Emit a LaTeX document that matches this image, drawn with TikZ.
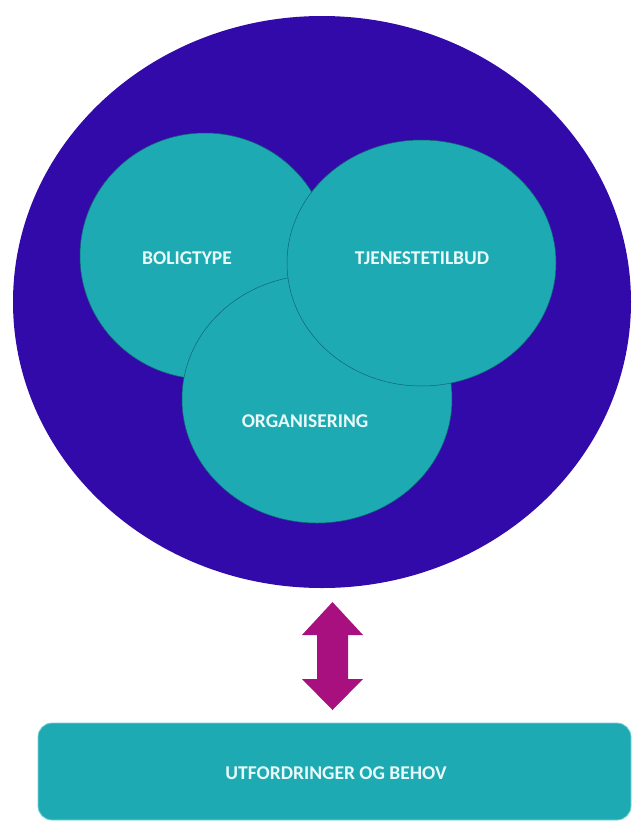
\documentclass[tikz,border=0pt]{standalone}
\usepackage{fontspec}
\setmainfont{Carlito}
\usetikzlibrary{shapes.geometric}
\definecolor{bigblue}{RGB}{51,10,170}
\definecolor{tealfill}{RGB}{30,170,178}
\definecolor{tealline}{RGB}{18,100,118}
\definecolor{boxline}{RGB}{120,210,215}
\definecolor{arrowmag}{RGB}{168,16,128}
\definecolor{txt}{RGB}{232,250,250}
\begin{document}
\begin{tikzpicture}[x=1pt,y=-1pt,
  outer/.style={ellipse, fill=bigblue, draw=none, inner sep=0pt},
  venn/.style={ellipse, fill=tealfill, draw=tealline, line width=0.5pt, inner sep=0pt},
  lbl/.style={text=txt, font=\bfseries\fontsize{19.5}{23}\selectfont, inner sep=0pt},
  bottombox/.style={rectangle, rounded corners=14pt, fill=tealfill, draw=boxline, line width=0.8pt, inner sep=0pt},
  dblarrow/.style={fill=arrowmag, draw=none}]
\useasboundingbox (0,0) rectangle (632,823);
\fill[white] (0,0) rectangle (632,823);
% outer ellipse
\node[outer, minimum width=618pt, minimum height=572pt] (big) at (322,302) {};
% venn circles
\node[venn, minimum width=250pt, minimum height=246pt] (bolig) at (205,256) {};
\node[venn, minimum width=270pt, minimum height=248pt] (org) at (317,399) {};
\node[venn, minimum width=269pt, minimum height=246pt] (tjen) at (421.5,263) {};
% labels
\node[lbl] (tbolig) at (187,258) {BOLIGTYPE};
\node[lbl] (ttjen) at (422,258) {TJENESTETILBUD};
\node[lbl] (torg) at (305,421) {ORGANISERING};
% bottom box
\node[bottombox, minimum width=593pt, minimum height=97pt] (box) at (334.5,771.5) {};
\node[lbl] (tbox) at (336,773) {UTFORDRINGER OG BEHOV};
% double arrow between ellipse and box
\coordinate (atop) at (332.5,602);
\coordinate (abot) at (332.5,710);
\fill[dblarrow] (atop) -- (363,635) -- (348,635) -- (348,679) -- (363,679)
  -- (abot) -- (302,679) -- (317,679) -- (317,635) -- (302,635) -- cycle;
\end{tikzpicture}
\end{document}
